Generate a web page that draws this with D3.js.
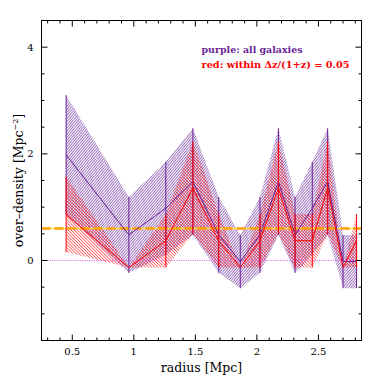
<!DOCTYPE html>
<html>
<head>
<meta charset="utf-8">
<script src="https://cdn.jsdelivr.net/npm/d3@7/dist/d3.min.js"></script>
<style>
body { margin: 0; background: #fff; }
text { font-family: "DejaVu Serif", serif; }
</style>
</head>
<body>
<div id="chart"></div>
<script>
// radial bins (equal-area annuli)
let radius = [0.45, 0.96, 1.26, 1.48, 1.69, 1.865, 2.025, 2.175, 2.31, 2.45, 2.575, 2.70, 2.81];

// all galaxies (purple)
let allMean = [1.98, 0.48, 0.98, 1.48, 0.48, -0.02, 0.48, 1.48, 0.48, 0.98, 1.48, -0.02, -0.02];
let allLo = [0.86, -0.23, 0.11, 0.48, -0.23, -0.52, -0.23, 0.48, -0.23, 0.11, 0.48, -0.52, -0.52];
let allHi = [3.10, 1.19, 1.85, 2.48, 1.19, 0.48, 1.19, 2.48, 1.19, 1.85, 2.48, 0.48, 0.48];

// within dz/(1+z) = 0.05 (red)
let zMean = [0.86, -0.13, 0.37, 1.36, 0.37, -0.13, 0.37, 1.36, 0.37, 0.37, 1.36, -0.13, 0.37];
let zLo = [0.16, -0.13, -0.13, 0.50, -0.13, -0.13, -0.13, 0.50, -0.13, -0.13, 0.50, -0.13, -0.13];
let zHi = [1.57, -0.13, 0.87, 2.23, 0.87, -0.13, 0.87, 2.23, 0.87, 0.87, 2.23, -0.13, 0.87];

let refLevel = 0.6;
let zeroLevel = 0;
let xTicks = [0.5, 1, 1.5, 2, 2.5];
let yTicks = [0, 2, 4];

let margin = { top: 20.5, right: 20.5, bottom: 41.5, left: 41.5 },
width = 382 - margin.left - margin.right,
height = 382 - margin.top - margin.bottom;

let purple = '#6a1f96';
let red = '#ff0000';

let root = d3.select('#chart').
append('svg').
attr('width', 382).
attr('height', 382);

let defs = root.append('defs');

function hatch(id, color, size, angle, sw) {
  let p = defs.append('pattern').
  attr('id', id).
  attr('patternUnits', 'userSpaceOnUse').
  attr('width', size).
  attr('height', size).
  attr('patternTransform', 'rotate(' + angle + ')');
  p.append('line').
  attr('x1', 0).attr('y1', 0).
  attr('x2', 0).attr('y2', size).
  attr('stroke', color).
  attr('stroke-width', sw);
}
hatch('hatchPurple', '#7030a0', 2, 40, 1.35);
hatch('hatchRed', red, 2.2, -45, 1.05);

root.append('clipPath').attr('id', 'clip').
append('rect').
attr('width', width).
attr('height', height);

let svg = root.append('g').
attr('transform', 'translate(' + margin.left + ',' + margin.top + ')');

let x = d3.scaleLinear().domain([0.25, 2.85]).range([0, width]);
let y = d3.scaleLinear().domain([-1.5, 4.5]).range([height, 0]);

let plot = svg.append('g').attr('clip-path', 'url(#clip)');

function band(lo, hi) {
  return d3.area().
  x((d, i) => x(radius[i])).
  y0((d, i) => y(lo[i])).
  y1((d, i) => y(hi[i]))(radius);
}
let line = d3.line().x((d, i) => x(radius[i])).y(d => y(d));

// shaded bands
plot.append('path').
attr('d', band(allLo, allHi)).
attr('fill', 'url(#hatchPurple)');
plot.append('path').
attr('d', band(zLo, zHi)).
attr('fill', 'url(#hatchRed)');

// reference lines
plot.append('line').
attr('x1', x(0.3)).attr('x2', width).
attr('y1', y(zeroLevel)).attr('y2', y(zeroLevel)).
attr('stroke', '#ee55ee').
attr('stroke-width', 1.2).
attr('stroke-dasharray', '1,1.3');

plot.append('line').
attr('x1', 0).attr('x2', width).
attr('y1', y(refLevel)).attr('y2', y(refLevel)).
attr('stroke', '#ffe34d').
attr('stroke-width', 1.6);
plot.append('line').
attr('x1', 0).attr('x2', width).
attr('y1', y(refLevel)).attr('y2', y(refLevel)).
attr('stroke', '#ff9f00').
attr('stroke-width', 2.4).
attr('stroke-dasharray', '9,4');

// mean lines and error bars
function series(mean, lo, hi, color) {
  plot.append('path').
  attr('d', line(mean)).
  attr('fill', 'none').
  attr('stroke', color).
  attr('stroke-width', 1);
  plot.selectAll(null).
  data(radius).
  enter().
  append('line').
  attr('x1', d => x(d)).attr('x2', d => x(d)).
  attr('y1', (d, i) => y(lo[i])).
  attr('y2', (d, i) => y(hi[i])).
  attr('stroke', color).
  attr('stroke-width', 1);
}
series(allMean, allLo, allHi, purple);
series(zMean, zLo, zHi, red);

// axes: ticks inward on all four sides
let xMinor = d3.range(0.3, 2.85, 0.1);
let yMinor = d3.range(-1.5, 4.5001, 0.5);

function isMajor(v, arr) {
  return arr.some(t => Math.abs(t - v) < 1e-6);
}

svg.selectAll(null).data(xMinor).enter().append('line').
attr('x1', d => x(d)).attr('x2', d => x(d)).
attr('y1', height).
attr('y2', d => height - (isMajor(d, xTicks) ? 6 : 3)).
attr('stroke', '#000');
svg.selectAll(null).data(xMinor).enter().append('line').
attr('x1', d => x(d)).attr('x2', d => x(d)).
attr('y1', 0).
attr('y2', d => isMajor(d, xTicks) ? 6 : 3).
attr('stroke', '#000');
svg.selectAll(null).data(yMinor).enter().append('line').
attr('y1', d => y(d)).attr('y2', d => y(d)).
attr('x1', 0).
attr('x2', d => isMajor(d, yTicks) ? 6 : 3).
attr('stroke', '#000');
svg.selectAll(null).data(yMinor).enter().append('line').
attr('y1', d => y(d)).attr('y2', d => y(d)).
attr('x1', width).
attr('x2', d => width - (isMajor(d, yTicks) ? 6 : 3)).
attr('stroke', '#000');

svg.append('rect').
attr('width', width).
attr('height', height).
attr('fill', 'none').
attr('stroke', '#000').
attr('stroke-width', 1);

svg.selectAll(null).data(xTicks).enter().append('text').
attr('x', d => x(d)).
attr('y', height + 14).
attr('text-anchor', 'middle').
style('font-size', '10px').
text(d => d);

svg.selectAll(null).data(yTicks).enter().append('text').
attr('x', -8).
attr('y', d => y(d) + 3.5).
attr('text-anchor', 'end').
style('font-size', '10px').
text(d => d);

// titles
svg.append('text').
attr('x', width / 2).
attr('y', height + 31).
attr('text-anchor', 'middle').
style('font-size', '12.5px').
text('radius [Mpc]');

let yt = svg.append('text').
attr('transform', 'translate(' + (-19) + ',' + (height / 2) + ') rotate(-90)').
attr('text-anchor', 'middle').
style('font-size', '12.5px');
yt.append('tspan').text('over\u2013density [Mpc');
yt.append('tspan').attr('dy', -5).style('font-size', '8px').text('\u22122');
yt.append('tspan').attr('dy', 5).text(']');

// legend
svg.append('text').
attr('x', 160).
attr('y', 32.5).
attr('fill', purple).
attr('textLength', 101).
attr('lengthAdjust', 'spacingAndGlyphs').
style('font-size', '9.5px').
style('font-weight', 'bold').
text('purple: all galaxies');

svg.append('text').
attr('x', 160).
attr('y', 47.5).
attr('fill', red).
attr('textLength', 148).
attr('lengthAdjust', 'spacingAndGlyphs').
style('font-size', '9.5px').
style('font-weight', 'bold').
text('red: within \u0394z/(1+z) = 0.05');
</script>
</body>
</html>
